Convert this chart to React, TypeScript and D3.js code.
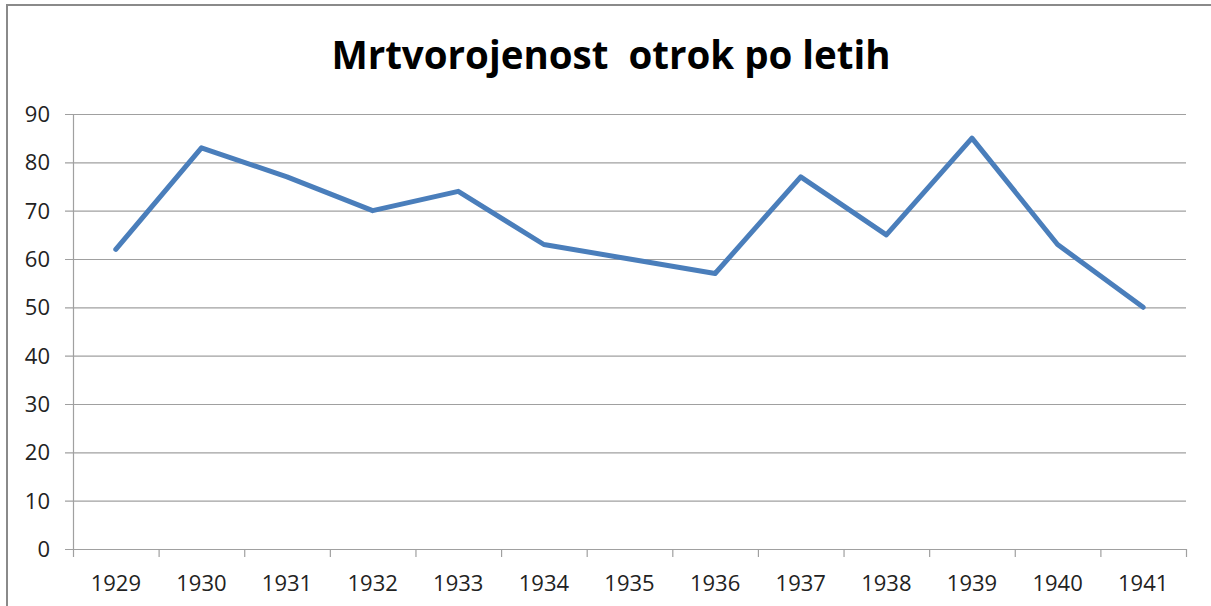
import React, { useRef, useEffect } from 'react';
import * as d3 from 'd3';

const years = ['1929', '1930', '1931', '1932', '1933', '1934', '1935', '1936', '1937', '1938', '1939', '1940', '1941'];
const stillbirths = [62, 83, 77, 70, 74, 63, 60, 57, 77, 65, 85, 63, 50];
const yTicks = [0, 10, 20, 30, 40, 50, 60, 70, 80, 90];
const title = 'Mrtvorojenost  otrok po letih';

const App: React.FC = () => {
  const svgRef = useRef<SVGSVGElement>(null);
  const width = 1211;
  const height = 606;

  useEffect(() => {
    if (!svgRef.current) return;
    const svg = d3.select(svgRef.current);
    svg.selectAll('*').remove();

    const margin = { top: 114, right: 25, bottom: 57, left: 73 };
    const innerWidth = width - margin.left - margin.right;
    const innerHeight = height - margin.top - margin.bottom;
    const font = "'Open Sans', 'DejaVu Sans', sans-serif";

    // chart border
    svg.append('rect')
      .attr('x', 7)
      .attr('y', 5)
      .attr('width', width + 10)
      .attr('height', height + 10)
      .attr('fill', 'white')
      .attr('stroke', '#8a8a8a')
      .attr('stroke-width', 2);

    svg.append('text')
      .attr('x', 611)
      .attr('y', 69)
      .attr('text-anchor', 'middle')
      .attr('font-family', font)
      .attr('font-weight', 'bold')
      .attr('font-size', 38.5)
      .attr('fill', '#000')
      .style('white-space', 'pre')
      .text(title);

    const x = d3.scaleBand().domain(years).range([0, innerWidth]);
    const y = d3.scaleLinear().domain([0, 90]).range([innerHeight, 0]);

    const g = svg.append('g').attr('transform', `translate(${margin.left},${margin.top})`);

    // gridlines
    g.append('g')
      .selectAll('line')
      .data(yTicks)
      .enter()
      .append('line')
      .attr('x1', -8)
      .attr('x2', innerWidth)
      .attr('y1', (d) => y(d) + 0.5)
      .attr('y2', (d) => y(d) + 0.5)
      .attr('stroke', '#a0a0a0')
      .attr('stroke-width', 1.2);

    // y axis line
    g.append('line')
      .attr('x1', 0.5)
      .attr('x2', 0.5)
      .attr('y1', 0)
      .attr('y2', innerHeight)
      .attr('stroke', '#a0a0a0')
      .attr('stroke-width', 1.2);

    // x axis ticks at category boundaries
    const bounds = years.map((d) => x(d) as number).concat([innerWidth]);
    g.append('g')
      .selectAll('line')
      .data(bounds)
      .enter()
      .append('line')
      .attr('x1', (d) => d + 0.5)
      .attr('x2', (d) => d + 0.5)
      .attr('y1', innerHeight)
      .attr('y2', innerHeight + 8)
      .attr('stroke', '#a0a0a0')
      .attr('stroke-width', 1.2);

    g.append('g')
      .selectAll('text')
      .data(yTicks)
      .enter()
      .append('text')
      .attr('x', -23)
      .attr('y', (d) => y(d))
      .attr('dy', '0.36em')
      .attr('text-anchor', 'end')
      .attr('font-family', font)
      .attr('font-size', 22)
      .attr('fill', '#222')
      .text((d) => d);

    g.append('g')
      .selectAll('text')
      .data(years)
      .enter()
      .append('text')
      .attr('x', (d) => (x(d) as number) + x.bandwidth() / 2)
      .attr('y', innerHeight + 42)
      .attr('text-anchor', 'middle')
      .attr('font-family', font)
      .attr('font-size', 22)
      .attr('fill', '#222')
      .text((d) => d);

    const line = d3
      .line<number>()
      .x((_, i) => (x(years[i]) as number) + x.bandwidth() / 2)
      .y((d) => y(d));

    g.append('path')
      .datum(stillbirths)
      .attr('d', line)
      .attr('fill', 'none')
      .attr('stroke', '#4a7ebb')
      .attr('stroke-width', 5)
      .attr('stroke-linejoin', 'round')
      .attr('stroke-linecap', 'round');
  }, []);

  return (
    <svg
      ref={svgRef}
      width={width}
      height={height}
      style={{ position: 'absolute', left: 0, top: 0, display: 'block' }}
    />
  );
};

export default App;
